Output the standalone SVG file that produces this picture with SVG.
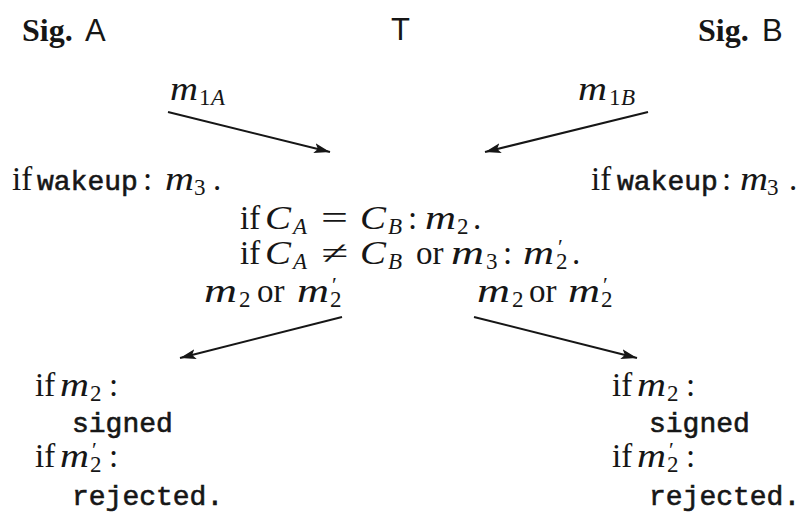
<svg xmlns="http://www.w3.org/2000/svg" width="803" height="521" viewBox="0 0 803 521">
<defs>
<style>
text{fill:#161616}
.rm{font-family:"Liberation Serif","Times New Roman",serif;font-size:33px}
.mi{font-family:"Liberation Serif","Times New Roman",serif;font-style:italic;font-size:33px}
.sb{font-family:"Liberation Serif","Times New Roman",serif;font-size:23px}
.si{font-family:"Liberation Serif","Times New Roman",serif;font-style:italic;font-size:23px}
.pr{font-family:"Liberation Serif","DejaVu Serif",serif;font-size:22px}
.tt{font-family:"Liberation Mono","Courier New",monospace;font-size:28px;stroke:#161616;stroke-width:0.6}
.bf{font-family:"Liberation Serif","Times New Roman",serif;font-weight:bold;font-size:32px}
.sf{font-family:"Liberation Sans",Arial,sans-serif;font-size:31px}
.conn line{stroke:#161616;stroke-width:2;fill:none;marker-end:url(#ah)}
</style>
<marker id="ah" markerUnits="userSpaceOnUse" markerWidth="18" markerHeight="12" refX="16" refY="6" orient="auto">
<path d="M0,1 L16,6 L0,11 L3.5,6 z" fill="#161616"/>
</marker>
</defs>
<rect width="803" height="521" fill="#fff"/>

<g id="sigA">
<text class="bf" x="22" y="41">Sig.</text><text class="sf" x="85" y="41">A</text>
<text class="rm" x="12" y="190">if</text>
<text class="tt" x="37" y="190">wakeup</text>
<text class="rm" x="143" y="190">:</text>
<text class="mi" x="165" y="190" textLength="29" lengthAdjust="spacingAndGlyphs">m</text>
<text class="sb" x="194" y="195">3</text>
<text class="rm" x="213" y="190">.</text>
</g>

<g id="T">
<text class="sf" x="391" y="40">T</text>
<text class="rm" x="240" y="229">if</text>
<text class="mi" x="265" y="229" textLength="26" lengthAdjust="spacingAndGlyphs">C</text>
<text class="si" x="293" y="234">A</text>
<text class="rm" x="321" y="229" textLength="27" lengthAdjust="spacingAndGlyphs">=</text>
<text class="mi" x="360" y="229" textLength="26" lengthAdjust="spacingAndGlyphs">C</text>
<text class="si" x="388" y="234">B</text>
<text class="rm" x="408" y="229">:</text>
<text class="mi" x="425" y="229" textLength="31" lengthAdjust="spacingAndGlyphs">m</text>
<text class="sb" x="457" y="234">2</text>
<text class="rm" x="473" y="229">.</text>

<text class="rm" x="240" y="264">if</text>
<text class="mi" x="265" y="264" textLength="26" lengthAdjust="spacingAndGlyphs">C</text>
<text class="si" x="293" y="269">A</text>
<text class="rm" x="321" y="264" textLength="27" lengthAdjust="spacingAndGlyphs">≠</text>
<text class="mi" x="360" y="264" textLength="26" lengthAdjust="spacingAndGlyphs">C</text>
<text class="si" x="388" y="269">B</text>
<text class="rm" x="416" y="264">or</text>
<text class="mi" x="451" y="264" textLength="33" lengthAdjust="spacingAndGlyphs">m</text>
<text class="sb" x="486" y="269">3</text>
<text class="rm" x="503" y="264">:</text>
<text class="mi" x="523" y="264" textLength="31" lengthAdjust="spacingAndGlyphs">m</text>
<text class="sb"><tspan class="pr" x="558" y="254">′</tspan><tspan x="556" y="269">2</tspan></text>
<text class="rm" x="572" y="264">.</text>
</g>

<g id="sigB">
<text class="bf" x="698" y="41">Sig.</text><text class="sf" x="762" y="41">B</text>
<text class="rm" x="591" y="190">if</text>
<text class="tt" x="617" y="190">wakeup</text>
<text class="rm" x="722" y="190">:</text>
<text class="mi" x="740" y="190" textLength="28" lengthAdjust="spacingAndGlyphs">m</text>
<text class="sb" x="767" y="195">3</text>
<text class="rm" x="789" y="190">.</text>
</g>

<g id="resultA">
<text class="rm" x="35" y="396">if</text>
<text class="mi" x="60" y="396" textLength="29" lengthAdjust="spacingAndGlyphs">m</text>
<text class="sb" x="90" y="401">2</text>
<text class="rm" x="109" y="396">:</text>
<text class="tt" x="72" y="432">signed</text>
<text class="rm" x="35" y="467">if</text>
<text class="mi" x="60" y="467" textLength="29" lengthAdjust="spacingAndGlyphs">m</text>
<text class="sb"><tspan class="pr" x="92" y="457">′</tspan><tspan x="90" y="472">2</tspan></text>
<text class="rm" x="109" y="467">:</text>
<text class="tt" x="72" y="505">rejected.</text>
</g>

<g id="resultB">
<text class="rm" x="612" y="396">if</text>
<text class="mi" x="637" y="396" textLength="29" lengthAdjust="spacingAndGlyphs">m</text>
<text class="sb" x="667" y="401">2</text>
<text class="rm" x="686" y="396">:</text>
<text class="tt" x="649" y="432">signed</text>
<text class="rm" x="612" y="467">if</text>
<text class="mi" x="637" y="467" textLength="29" lengthAdjust="spacingAndGlyphs">m</text>
<text class="sb"><tspan class="pr" x="669" y="457">′</tspan><tspan x="667" y="472">2</tspan></text>
<text class="rm" x="686" y="467">:</text>
<text class="tt" x="649" y="505">rejected.</text>
</g>

<g id="connectors" class="conn">
<line x1="168" y1="112" x2="330" y2="152"/>
<line x1="648" y1="112" x2="485" y2="152"/>
<line x1="342" y1="317" x2="180" y2="358"/>
<line x1="474" y1="317" x2="637" y2="358"/>
<g id="labels">
<text class="mi" x="170" y="100" textLength="28" lengthAdjust="spacingAndGlyphs">m</text>
<text class="sb" x="199" y="105">1</text><text class="si" x="211" y="105">A</text>
<text class="mi" x="578" y="100" textLength="29" lengthAdjust="spacingAndGlyphs">m</text>
<text class="sb" x="609" y="105">1</text><text class="si" x="621" y="105">B</text>

<text class="mi" x="204" y="302" textLength="33" lengthAdjust="spacingAndGlyphs">m</text>
<text class="sb" x="239" y="307">2</text>
<text class="rm" x="257" y="302">or</text>
<text class="mi" x="297" y="302" textLength="32" lengthAdjust="spacingAndGlyphs">m</text>
<text class="sb"><tspan class="pr" x="332" y="292">′</tspan><tspan x="330" y="307">2</tspan></text>

<text class="mi" x="477" y="302" textLength="33" lengthAdjust="spacingAndGlyphs">m</text>
<text class="sb" x="512" y="307">2</text>
<text class="rm" x="529" y="302">or</text>
<text class="mi" x="568" y="302" textLength="32" lengthAdjust="spacingAndGlyphs">m</text>
<text class="sb"><tspan class="pr" x="603" y="292">′</tspan><tspan x="601" y="307">2</tspan></text>
</g>
</g>
</svg>
